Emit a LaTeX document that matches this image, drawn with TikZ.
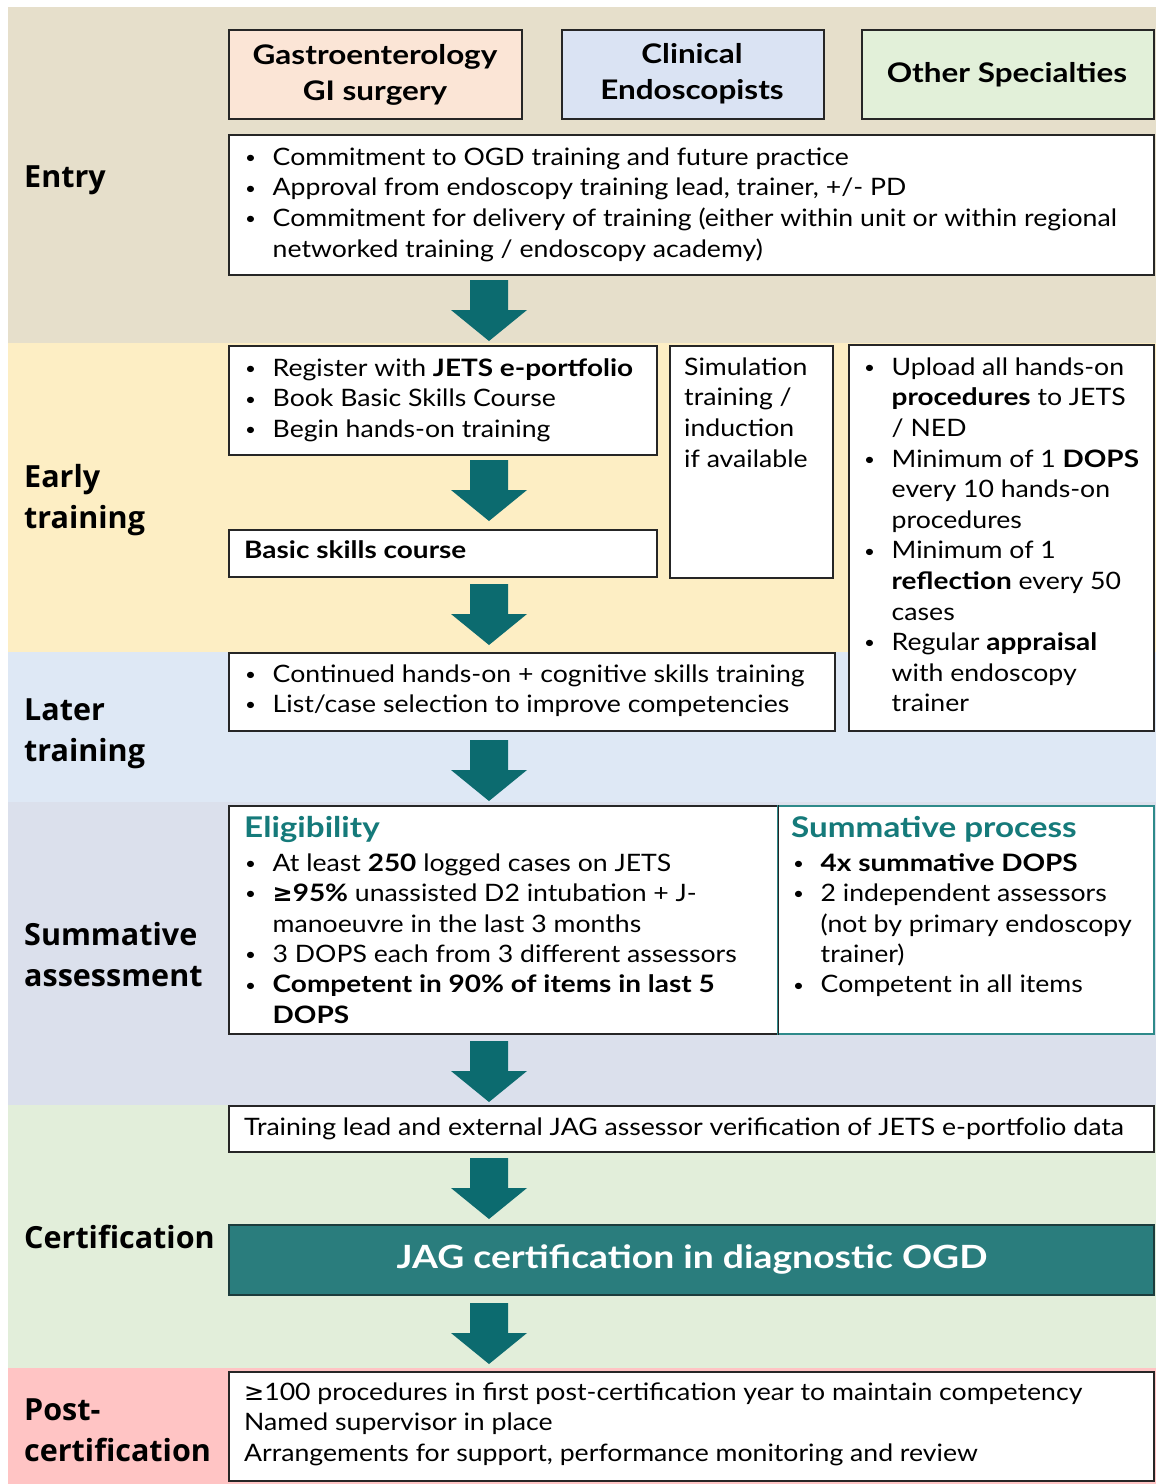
\documentclass[tikz,border=0pt]{standalone}
\usepackage{fontspec}
\setmainfont{Lato}[FakeStretch=1.11,BoldFeatures={FakeStretch=1.165}]
\newfontfamily\symfont{DejaVu Sans}
\newfontfamily\labelfamily{Open Sans}
\definecolor{bandEntry}{HTML}{E6DFCB}
\definecolor{bandEarly}{HTML}{FDEEC4}
\definecolor{bandLater}{HTML}{DEE8F5}
\definecolor{bandSumm}{HTML}{DBE0EC}
\definecolor{bandCert}{HTML}{E2EEDA}
\definecolor{bandPost}{HTML}{FFC4C4}
\definecolor{fillGastro}{HTML}{FBE5D6}
\definecolor{fillClin}{HTML}{DAE3F3}
\definecolor{fillOther}{HTML}{E2F0D9}
\definecolor{arrowc}{HTML}{0C6B6F}
\definecolor{tealtxt}{HTML}{157A7A}
\definecolor{tealborder}{HTML}{2E8A8A}
\definecolor{jagfill}{HTML}{2A7D7D}
\definecolor{jagborder}{HTML}{1C3C3C}
\definecolor{boxline}{HTML}{262626}
\newcommand\bodyfont{\fontsize{24}{30.6}\selectfont}
\newcommand\labfont{\labelfamily\fontsize{30.5}{41}\selectfont\bfseries}
\newcommand\headfont{\fontsize{27}{36}\selectfont\bfseries}
\newcommand\TS{\rule{0pt}{22pt}}
\newcommand\LS{\rule{0pt}{28pt}}
\newcommand\HS{\rule{0pt}{26pt}}
\newcommand\bul{\makebox[28.5pt][l]{\hspace{1pt}\raisebox{1.8pt}{\fontsize{17}{17}\selectfont\mdseries•}}}
\newcommand\ind{\hspace*{28.5pt}}
\begin{document}
\begin{tikzpicture}[x=1pt,y=-1pt,
  box/.style={draw=boxline,line width=1.5pt,fill=white,inner sep=0,anchor=north west},
  txt/.style={inner sep=0,anchor=north west,align=left,font=\bodyfont},
  lab/.style={inner sep=0,anchor=north west,align=left,font=\labfont},
  head/.style={inner sep=0,anchor=north,align=center,font=\headfont},
  band/.style={inner sep=0,anchor=north west,draw=none},
  blockarrow/.pic={\fill[arrowc] (-19,0) -- (19,0) -- (19,30) -- (38,30) -- (0,61) -- (-38,30) -- (-19,30) -- cycle;}
]
\useasboundingbox (0,0) rectangle (1156,1484);
\fill[white] (0,0) rectangle (1156,1484);
% bands
\node[band,fill=bandEntry,minimum width=1148pt,minimum height=336pt] (bEntry) at (8,7) {};
\node[band,fill=bandEarly,minimum width=1148pt,minimum height=309pt] (bEarly) at (8,343) {};
\node[band,fill=bandLater,minimum width=1148pt,minimum height=150pt] (bLater) at (8,652) {};
\node[band,fill=bandSumm,minimum width=1148pt,minimum height=303pt] (bSumm) at (8,802) {};
\node[band,fill=bandCert,minimum width=1148pt,minimum height=263pt] (bCert) at (8,1105) {};
\node[band,fill=bandPost,minimum width=1148pt,minimum height=116pt] (bPost) at (8,1368) {};

% stage labels
\node[lab] (lEntry) at (24,159) {\LS Entry};
\node[lab] (lEarly) at (24,459) {\LS Early\\training};
\node[lab] (lLater) at (24,692) {\LS Later\\training};
\node[lab] (lSumm) at (24,917) {\LS Summative\\assessment};
\node[lab] (lCert) at (24,1220) {\LS Certification};
\node[lab] (lPost) at (24,1392) {\LS Post-\\certification};

% header boxes
\node[box,fill=fillGastro,minimum width=293pt,minimum height=89pt] (gastro) at (228,29) {};
\node[box,fill=fillClin,minimum width=262pt,minimum height=89pt] (clin) at (561,29) {};
\node[box,fill=fillOther,minimum width=292pt,minimum height=89pt] (other) at (861,29) {};
\node[head] (tGastro) at (375,38) {\HS Gastroenterology\\GI surgery};
\node[head] (tClin) at (692,37) {\HS Clinical\\Endoscopists};
\node[inner sep=0,anchor=base,font=\headfont] (tOther) at (1007,82) {Other Specialties};

% entry box
\node[box,minimum width=925pt,minimum height=140pt] (entrybox) at (228,134) {};
\node[txt] (tEntry) at (244,143) {\TS\bul Commitment to OGD training and future practice\\
\bul Approval from endoscopy training lead, trainer, +/- PD\\
\bul Commitment for delivery of training (either within unit or within regional\\
\ind networked training / endoscopy academy)};
\pic (a1) at (489,280) {blockarrow};

% early training
\node[box,minimum width=428pt,minimum height=109pt] (early1) at (228,345) {};
\node[txt] (tEarly1) at (244,354) {\TS\bul Register with \textbf{JETS e-portfolio}\\
\bul Book Basic Skills Course\\
\bul Begin hands-on training};
\pic (a2) at (489,460) {blockarrow};
\node[box,minimum width=428pt,minimum height=47pt] (basic) at (228,529) {};
\node[inner sep=0,anchor=base west,font=\bodyfont\bfseries] (tBasic) at (244,558) {Basic skills course};
\pic (a3) at (489,584) {blockarrow};

\node[box,minimum width=163pt,minimum height=232pt] (sim) at (669,345) {};
\node[txt] (tSim) at (684,353) {\TS Simulation\\training /\\induction\\if available};

\node[box,minimum width=305pt,minimum height=386pt] (right) at (848,344) {};
\node[txt] (tRight) at (863,353) {\TS\bul Upload all hands-on\\
\ind\textbf{procedures} to JETS\\
\ind/ NED\\
\bul Minimum of 1 \textbf{DOPS}\\
\ind every 10 hands-on\\
\ind procedures\\
\bul Minimum of 1\\
\ind\textbf{reflection} every 50\\
\ind cases\\
\bul Regular \textbf{appraisal}\\
\ind with endoscopy\\
\ind trainer};

% later training
\node[box,minimum width=606pt,minimum height=78pt] (later) at (228,652) {};
\node[txt,font=\fontsize{24}{30}\selectfont] (tLater) at (244,660) {\TS\bul Continued hands-on + cognitive skills training\\
\bul List/case selection to improve competencies};
\pic (a4) at (489,740) {blockarrow};

% summative assessment
\node[box,minimum width=549pt,minimum height=228pt] (elig) at (228,805) {};
\node[box,draw=tealborder,minimum width=376pt,minimum height=228pt] (summ) at (777,805) {};
\draw[boxline,line width=1.5pt] (elig.north east) -- (elig.south east);
\node[inner sep=0,anchor=base west,font=\fontsize{28.5}{34}\selectfont\bfseries,text=tealtxt] (hElig) at (244,837) {Eligibility};
\node[txt,font=\fontsize{24}{30.4}\selectfont] (tElig) at (244,849) {\TS\bul At least \textbf{250} logged cases on JETS\\
\bul \textbf{{\symfont\bfseries≥}95\%} unassisted D2 intubation + J-\\
\ind manoeuvre in the last 3 months\\
\bul 3 DOPS each from 3 different assessors\\
\bul \textbf{Competent in 90\% of items in last 5}\\
\ind\textbf{DOPS}};
\node[inner sep=0,anchor=base west,font=\fontsize{28.5}{34}\selectfont\bfseries,text=tealtxt] (hSumm) at (791,837) {Summative process};
\node[txt,font=\fontsize{24}{30.4}\selectfont] (tSumm) at (792,849) {\TS\bul \textbf{4x summative DOPS}\\
\bul 2 independent assessors\\
\ind (not by primary endoscopy\\
\ind trainer)\\
\bul Competent in all items};
\pic (a5) at (489,1041) {blockarrow};

% certification
\node[box,minimum width=925pt,minimum height=46pt] (verif) at (228,1105) {};
\node[inner sep=0,anchor=base west,font=\bodyfont] (tVerif) at (244,1135) {Training lead and external JAG assessor verification of JETS e-portfolio data};
\pic (a6) at (489,1158) {blockarrow};
\node[box,fill=jagfill,draw=jagborder,line width=2pt,minimum width=925pt,minimum height=70pt] (jag) at (228,1224) {};
\node[inner sep=0,anchor=base,font=\fontsize{32}{40}\selectfont\bfseries,text=white] (tJag) at (692,1268) {JAG certification in diagnostic OGD};
\pic (a7) at (489,1303) {blockarrow};

% post-certification
\node[box,minimum width=925pt,minimum height=109pt] (post) at (228,1371) {};
\node[txt,font=\fontsize{24}{30.5}\selectfont] (tPost) at (244,1378) {\TS{\symfont≥}100 procedures in first post-certification year to maintain competency\\
Named supervisor in place\\
Arrangements for support, performance monitoring and review};
\end{tikzpicture}
\end{document}
